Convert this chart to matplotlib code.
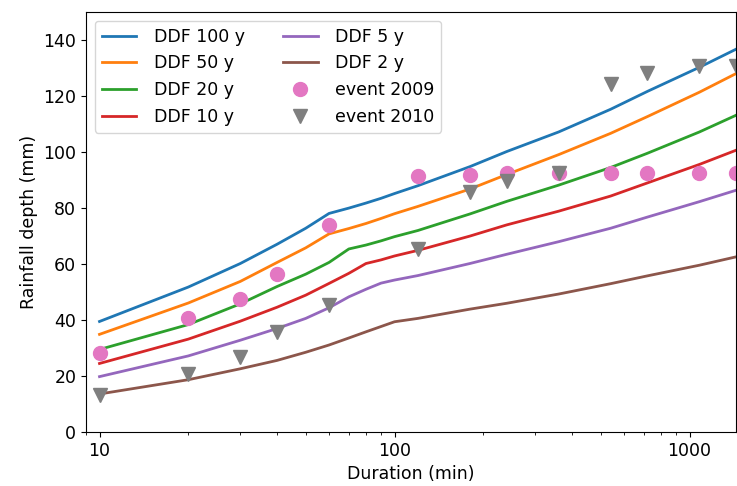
import matplotlib
matplotlib.use("Agg")
import matplotlib.pyplot as plt

durations = [10, 20, 30, 40, 50, 60, 70, 80, 90, 100, 120, 180, 240, 360, 540, 720, 1080, 1440]

ddf_100 = [39.5, 51.8, 60.2, 67.1, 72.8, 78.1, 80.0, 81.8, 83.5, 85.2, 88.0, 94.8, 100.2, 107.2, 115.3, 121.7, 130.3, 136.8]
ddf_50 = [34.9, 46.1, 53.8, 60.6, 65.8, 70.8, 72.7, 74.5, 76.3, 78.0, 80.6, 86.8, 92.0, 99.1, 106.7, 112.7, 121.4, 128.1]
ddf_20 = [29.5, 38.4, 45.8, 52.0, 56.4, 60.6, 65.4, 66.8, 68.3, 69.8, 72.0, 77.9, 82.4, 88.2, 94.5, 99.6, 107.2, 113.2]
ddf_10 = [24.5, 33.2, 39.6, 44.6, 48.9, 53.1, 56.7, 60.2, 61.5, 62.9, 64.9, 70.0, 74.0, 78.9, 84.3, 89.0, 95.6, 100.7]
ddf_5 = [19.8, 27.2, 32.8, 37.0, 40.6, 44.4, 48.3, 51.0, 53.2, 54.3, 55.9, 60.2, 63.5, 68.0, 72.8, 76.8, 82.3, 86.4]
ddf_2 = [13.6, 18.7, 22.6, 25.6, 28.5, 31.1, 33.6, 35.8, 37.7, 39.4, 40.6, 43.9, 46.0, 49.3, 53.0, 55.8, 59.6, 62.6]

event_durations = [10, 20, 30, 40, 60, 120, 180, 240, 360, 540, 720, 1080, 1440]
event_2009 = [28.3, 40.8, 47.4, 56.3, 73.9, 91.4, 92.0, 92.4, 92.4, 92.4, 92.4, 92.4, 92.4]
event_2010 = [13.2, 20.7, 26.7, 35.6, 45.4, 65.4, 85.8, 89.8, 92.6, 124.5, 128.4, 130.7, 130.7]

plt.rcParams['font.size'] = 12.5

fig = plt.figure(figsize=(7.37, 4.86), dpi=100)
ax = fig.add_axes([0.1167, 0.111, 0.8823, 0.864])

ax.plot(durations, ddf_100, color='tab:blue', lw=2, label='DDF 100 y')
ax.plot(durations, ddf_50, color='tab:orange', lw=2, label='DDF 50 y')
ax.plot(durations, ddf_20, color='tab:green', lw=2, label='DDF 20 y')
ax.plot(durations, ddf_10, color='tab:red', lw=2, label='DDF 10 y')
ax.plot(durations, ddf_5, color='tab:purple', lw=2, label='DDF 5 y')
ax.plot(durations, ddf_2, color='tab:brown', lw=2, label='DDF 2 y')
ax.plot(event_durations, event_2009, 'o', color='tab:pink', ms=10, label='event 2009')
ax.plot(event_durations, event_2010, 'v', color='tab:gray', ms=10, label='event 2010')

ax.set_xscale('log')
ax.set_xlim(9, 1440)
ax.set_ylim(0, 150)
ax.set_yticks(range(0, 141, 20))
ax.set_xticks([10, 100, 1000])
ax.set_xticklabels(['10', '100', '1000'])
ax.set_xlabel('Duration (min)')
ax.set_ylabel('Rainfall depth (mm)')
ax.legend(ncol=2, loc='upper left', handletextpad=1.0, columnspacing=2.2)

fig.savefig('out.png', dpi=100)
